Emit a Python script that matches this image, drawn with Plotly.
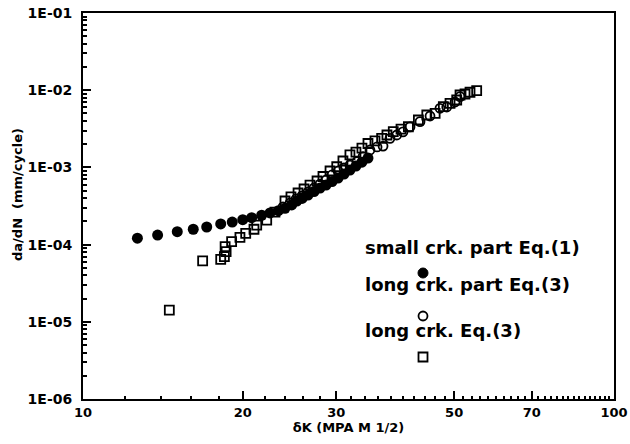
import plotly.graph_objects as go

# small crack part, Eq.(1) (filled circles)
small_dk = [12.66, 13.82, 15.05, 16.13, 17.10, 18.17, 19.10, 19.99, 20.78, 21.70, 22.50, 23.33, 24.01,
            24.72, 25.27, 25.85, 26.53, 27.23, 27.95, 28.69, 29.44, 30.22, 31.01, 31.82, 32.66, 33.52, 34.41]
small_dadn = [1.21e-4, 1.33e-4, 1.47e-4, 1.58e-4, 1.69e-4, 1.85e-4, 1.96e-4, 2.10e-4, 2.23e-4, 2.40e-4,
              2.57e-4, 2.75e-4, 2.95e-4, 3.26e-4, 3.67e-4, 3.96e-4, 4.39e-4, 4.87e-4, 5.41e-4, 5.91e-4,
              6.56e-4, 7.29e-4, 8.21e-4, 9.25e-4, 1.04e-3, 1.17e-3, 1.32e-3]

# long crack part, Eq.(3) (open circles)
longp_dk = [23.80, 24.54, 25.19, 25.85, 26.53, 27.23, 27.95, 28.69, 29.44, 30.22, 31.01, 31.82, 32.81,
            33.68, 34.71, 35.79, 36.73, 37.86, 38.98, 40.05, 41.29, 43.12, 45.03, 47.02, 48.42, 50.19, 51.29]
longp_dadn = [3.07e-4, 3.46e-4, 3.90e-4, 4.27e-4, 4.80e-4, 5.41e-4, 6.09e-4, 6.87e-4, 7.98e-4, 8.98e-4,
              9.82e-4, 1.07e-3, 1.19e-3, 1.38e-3, 1.68e-3, 1.84e-3, 1.89e-3, 2.38e-3, 2.63e-3, 2.88e-3,
              3.34e-3, 3.91e-3, 4.63e-3, 5.83e-3, 6.06e-3, 7.03e-3, 8.24e-3]

# long crack, Eq.(3) (open squares)
long_dk = [14.54, 16.80, 18.17, 18.46, 18.60, 18.52, 19.05, 19.75, 20.25, 20.99, 21.24, 22.18, 22.99,
           24.01, 24.64, 25.41, 26.08, 26.76, 27.59, 28.31, 29.19, 30.05, 30.87, 31.82, 32.66, 33.52,
           34.41, 35.47, 36.51, 37.36, 38.40, 39.71, 41.00, 42.82, 44.41, 46.04, 47.71, 49.11, 50.56,
           51.29, 52.41, 53.56, 55.13]
long_dadn = [1.42e-5, 6.14e-5, 6.45e-5, 6.97e-5, 8.09e-5, 9.4e-5, 1.09e-4, 1.24e-4, 1.40e-4, 1.58e-4,
             1.79e-4, 2.08e-4, 2.64e-4, 3.67e-4, 4.14e-4, 4.66e-4, 5.25e-4, 5.91e-4, 6.67e-4, 7.62e-4,
             8.98e-4, 1.02e-3, 1.21e-3, 1.45e-3, 1.58e-3, 1.78e-3, 2.04e-3, 2.20e-3, 2.38e-3, 2.63e-3,
             2.90e-3, 3.14e-3, 3.36e-3, 4.11e-3, 4.77e-3, 5.02e-3, 6.11e-3, 6.76e-3, 7.46e-3, 8.67e-3,
             8.93e-3, 9.40e-3, 9.86e-3]

x_tickvals = [10, 20, 30, 50, 70, 100]
x_ticktext = ["10", "20", "30", "50", "70", "100"]
y_tickvals = [1e-6, 1e-5, 1e-4, 1e-3, 1e-2, 1e-1]
y_ticktext = ["1E-06", "1E-05", "1E-04", "1E-03", "1E-02", "1E-01"]

legend_labels = ["small crk. part Eq.(1)", "long crk. part Eq.(3)", "long crk. Eq.(3)"]

FONT = "DejaVu Sans, Liberation Sans, Arial, sans-serif"

fig = go.Figure()
fig.add_trace(go.Scatter(x=long_dk, y=long_dadn, mode="markers",
                         marker=dict(symbol="square-open", size=9, color="black", line=dict(width=1.8))))
fig.add_trace(go.Scatter(x=longp_dk, y=longp_dadn, mode="markers",
                         marker=dict(symbol="circle-open", size=9, color="black", line=dict(width=1.8))))
fig.add_trace(go.Scatter(x=small_dk, y=small_dadn, mode="markers",
                         marker=dict(symbol="circle", size=11, color="black")))

W, H = 630, 444
L, R, T, B = 83, 16, 13, 45
pw, ph = W - L - R, H - T - B

def px(xs):
    return (xs - L) / pw

def py(ys):
    return (H - B - ys) / ph

text_y = [248, 284, 330]
for lab, yy in zip(legend_labels, text_y):
    fig.add_annotation(x=px(363), y=py(yy), xref="paper", yref="paper", text=lab,
                       showarrow=False, xanchor="left", yanchor="middle",
                       font=dict(family=FONT, size=18, color="black", weight="bold"))

# legend marker glyphs
mx = 423
fig.add_shape(type="circle", xref="paper", yref="paper",
              x0=px(mx - 5), x1=px(mx + 5), y0=py(273 + 5), y1=py(273 - 5),
              fillcolor="black", line=dict(color="black", width=1))
fig.add_shape(type="circle", xref="paper", yref="paper",
              x0=px(mx - 4.5), x1=px(mx + 4.5), y0=py(316 + 4.5), y1=py(316 - 4.5),
              fillcolor="rgba(0,0,0,0)", line=dict(color="black", width=1.8))
fig.add_shape(type="rect", xref="paper", yref="paper",
              x0=px(mx - 4.5), x1=px(mx + 4.5), y0=py(357 + 4.5), y1=py(357 - 4.5),
              fillcolor="rgba(0,0,0,0)", line=dict(color="black", width=1.8))

# y-axis title
fig.add_annotation(x=px(17), y=py(195), xref="paper", yref="paper",
                   text="da/dN  (mm/cycle)", textangle=-90, showarrow=False,
                   xanchor="center", yanchor="middle",
                   font=dict(family=FONT, size=13, color="black", weight="bold"))

fig.update_layout(
    width=W, height=H,
    margin=dict(l=L, r=R, t=T, b=B, autoexpand=False),
    paper_bgcolor="white", plot_bgcolor="white",
    showlegend=False,
    font=dict(family=FONT, color="black"),
    xaxis=dict(
        type="log", range=[1, 2], tickvals=x_tickvals, ticktext=x_ticktext,
        ticks="inside", ticklen=8, tickwidth=1.5, tickcolor="black",
        showline=True, linecolor="black", linewidth=2, mirror=True,
        showgrid=False, zeroline=False, automargin=False, ticklabeloverflow="allow",
        tickfont=dict(family=FONT, size=13, color="black", weight="bold"),
        title=dict(text="δK (MPA M 1/2)", standoff=4,
                   font=dict(family=FONT, size=13, color="black", weight="bold")),
        minor=dict(ticks="inside", ticklen=3, tickcolor="black", showgrid=False),
    ),
    yaxis=dict(
        type="log", range=[-6, -1], tickvals=y_tickvals, ticktext=y_ticktext,
        ticks="inside", ticklen=8, tickwidth=1.5, tickcolor="black",
        showline=True, linecolor="black", linewidth=2, mirror=True,
        showgrid=False, zeroline=False, automargin=False, ticklabelstandoff=6,
        ticklabeloverflow="allow",
        tickfont=dict(family=FONT, size=14, color="black", weight="bold"),
        minor=dict(ticks="inside", ticklen=4, tickcolor="black", showgrid=False, dtick="D1"),
    ),
)

fig.write_html("out.html",
               config={"displayModeBar": False},
               post_script="document.body.style.margin='0';document.body.style.overflow='hidden';")
